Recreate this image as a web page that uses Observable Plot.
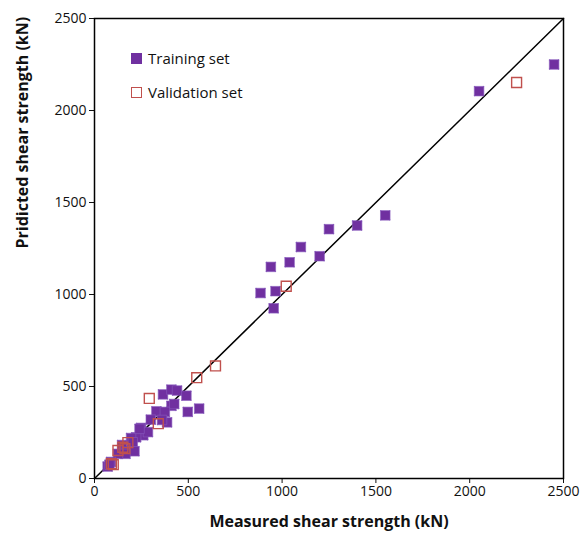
<!DOCTYPE html>
<html>
<head>
<meta charset="utf-8">
<script src="https://cdn.jsdelivr.net/npm/d3@7"></script>
<script src="https://cdn.jsdelivr.net/npm/@observablehq/plot@0.6"></script>
<style>
  html, body { margin: 0; padding: 0; background: #fff; }
  #wrap { position: relative; width: 582px; height: 533px; font-family: "Open Sans", "Liberation Sans", sans-serif; }
  #legend { position: absolute; left: 131px; top: 41px; font-size: 15px; color: #111; }
  .item { display: flex; align-items: center; height: 34px; }
  .sw { width: 11px; height: 11px; box-sizing: border-box; margin-right: 6px; }
</style>
</head>
<body>
<div id="wrap"><div id="legend"></div></div>
<script>
const trainX = [2450, 2050, 1550, 1400, 1250, 1200, 1100, 1040, 940, 885, 965, 955,
  365, 410, 440, 490, 330, 410, 425, 375, 497, 558, 387, 360, 248, 260, 285, 222, 195, 204,
  147, 160, 213, 165, 125, 88, 70, 80, 240, 300];
const trainY = [2250, 2105, 1430, 1375, 1355, 1208, 1258, 1175, 1150, 1008, 1018, 925,
  457, 483, 478, 450, 365, 395, 405, 362, 362, 380, 305, 318, 275, 235, 252, 224, 220, 197,
  182, 145, 148, 134, 134, 90, 65, 75, 270, 320];
const validX = [2250, 1022, 645, 545, 292, 340, 178, 151, 125, 162, 90, 100];
const validY = [2152, 1045, 612, 548, 435, 298, 195, 170, 152, 162, 80, 75];
const xTicks = [0, 500, 1000, 1500, 2000, 2500];
const yTicks = [0, 500, 1000, 1500, 2000, 2500];
const seriesNames = ["Training set", "Validation set"];
const colors = ["#7030A0", "#C0504D"];

const train = trainX.map((x, i) => ({x, y: trainY[i]}));
const valid = validX.map((x, i) => ({x, y: validY[i]}));
const diag = [{x: 0, y: 0}, {x: 2500, y: 2500}];
const fmt = d3.format("d");

const chart = Plot.plot({
  width: 582, height: 533,
  marginLeft: 94, marginRight: 19, marginTop: 18, marginBottom: 55,
  style: {fontFamily: '"Open Sans", "Liberation Sans", sans-serif', fontSize: "14px", color: "#111", background: "#fff"},
  x: {domain: [0, 2500], label: null},
  y: {domain: [0, 2500], label: null},
  marks: [
    Plot.axisX({ticks: xTicks, tickFormat: fmt, tickSize: 5, tickPadding: 3, fontSize: 14, stroke: "#111", strokeWidth: 1, color: "#111", label: null}),
    Plot.axisY({ticks: yTicks, tickFormat: fmt, tickSize: 5, tickPadding: 3, fontSize: 14, stroke: "#111", strokeWidth: 1, color: "#111", label: null}),
    Plot.line(diag, {x: "x", y: "y", stroke: "#000", strokeWidth: 1.5}),
    Plot.dot(train, {x: "x", y: "y", symbol: "times", r: 4.6, stroke: "#a58ad0", strokeWidth: 1.2}),
    Plot.dot(train, {x: "x", y: "y", symbol: "square", r: 5.4, fill: colors[0], stroke: "#8a5cc0", strokeWidth: 0.6}),
    Plot.dot(valid, {x: "x", y: "y", symbol: "square", r: 5.6, fill: "none", stroke: colors[1], strokeWidth: 1.4}),
    Plot.frame({stroke: "#000", strokeWidth: 1.5}),
    Plot.text([0], {frameAnchor: "bottom", dy: 48, text: () => "Measured shear strength (kN)", fontSize: 16, fontWeight: "bold", fill: "#111"}),
    Plot.text([0], {frameAnchor: "left", dx: -72, rotate: -90, text: () => "Pridicted shear strength (kN)", fontSize: 16, fontWeight: "bold", fill: "#111"})
  ]
});
const wrap = document.getElementById("wrap");
wrap.insertBefore(chart, wrap.firstChild);

const legend = document.getElementById("legend");
seriesNames.forEach((name, i) => {
  const item = document.createElement("div");
  item.className = "item";
  const sw = document.createElement("span");
  sw.className = "sw";
  if (i === 0) { sw.style.background = colors[0]; }
  else { sw.style.border = "1.5px solid " + colors[1]; }
  item.appendChild(sw);
  const t = document.createElement("span");
  t.textContent = name;
  item.appendChild(t);
  legend.appendChild(item);
});
</script>
</body>
</html>
